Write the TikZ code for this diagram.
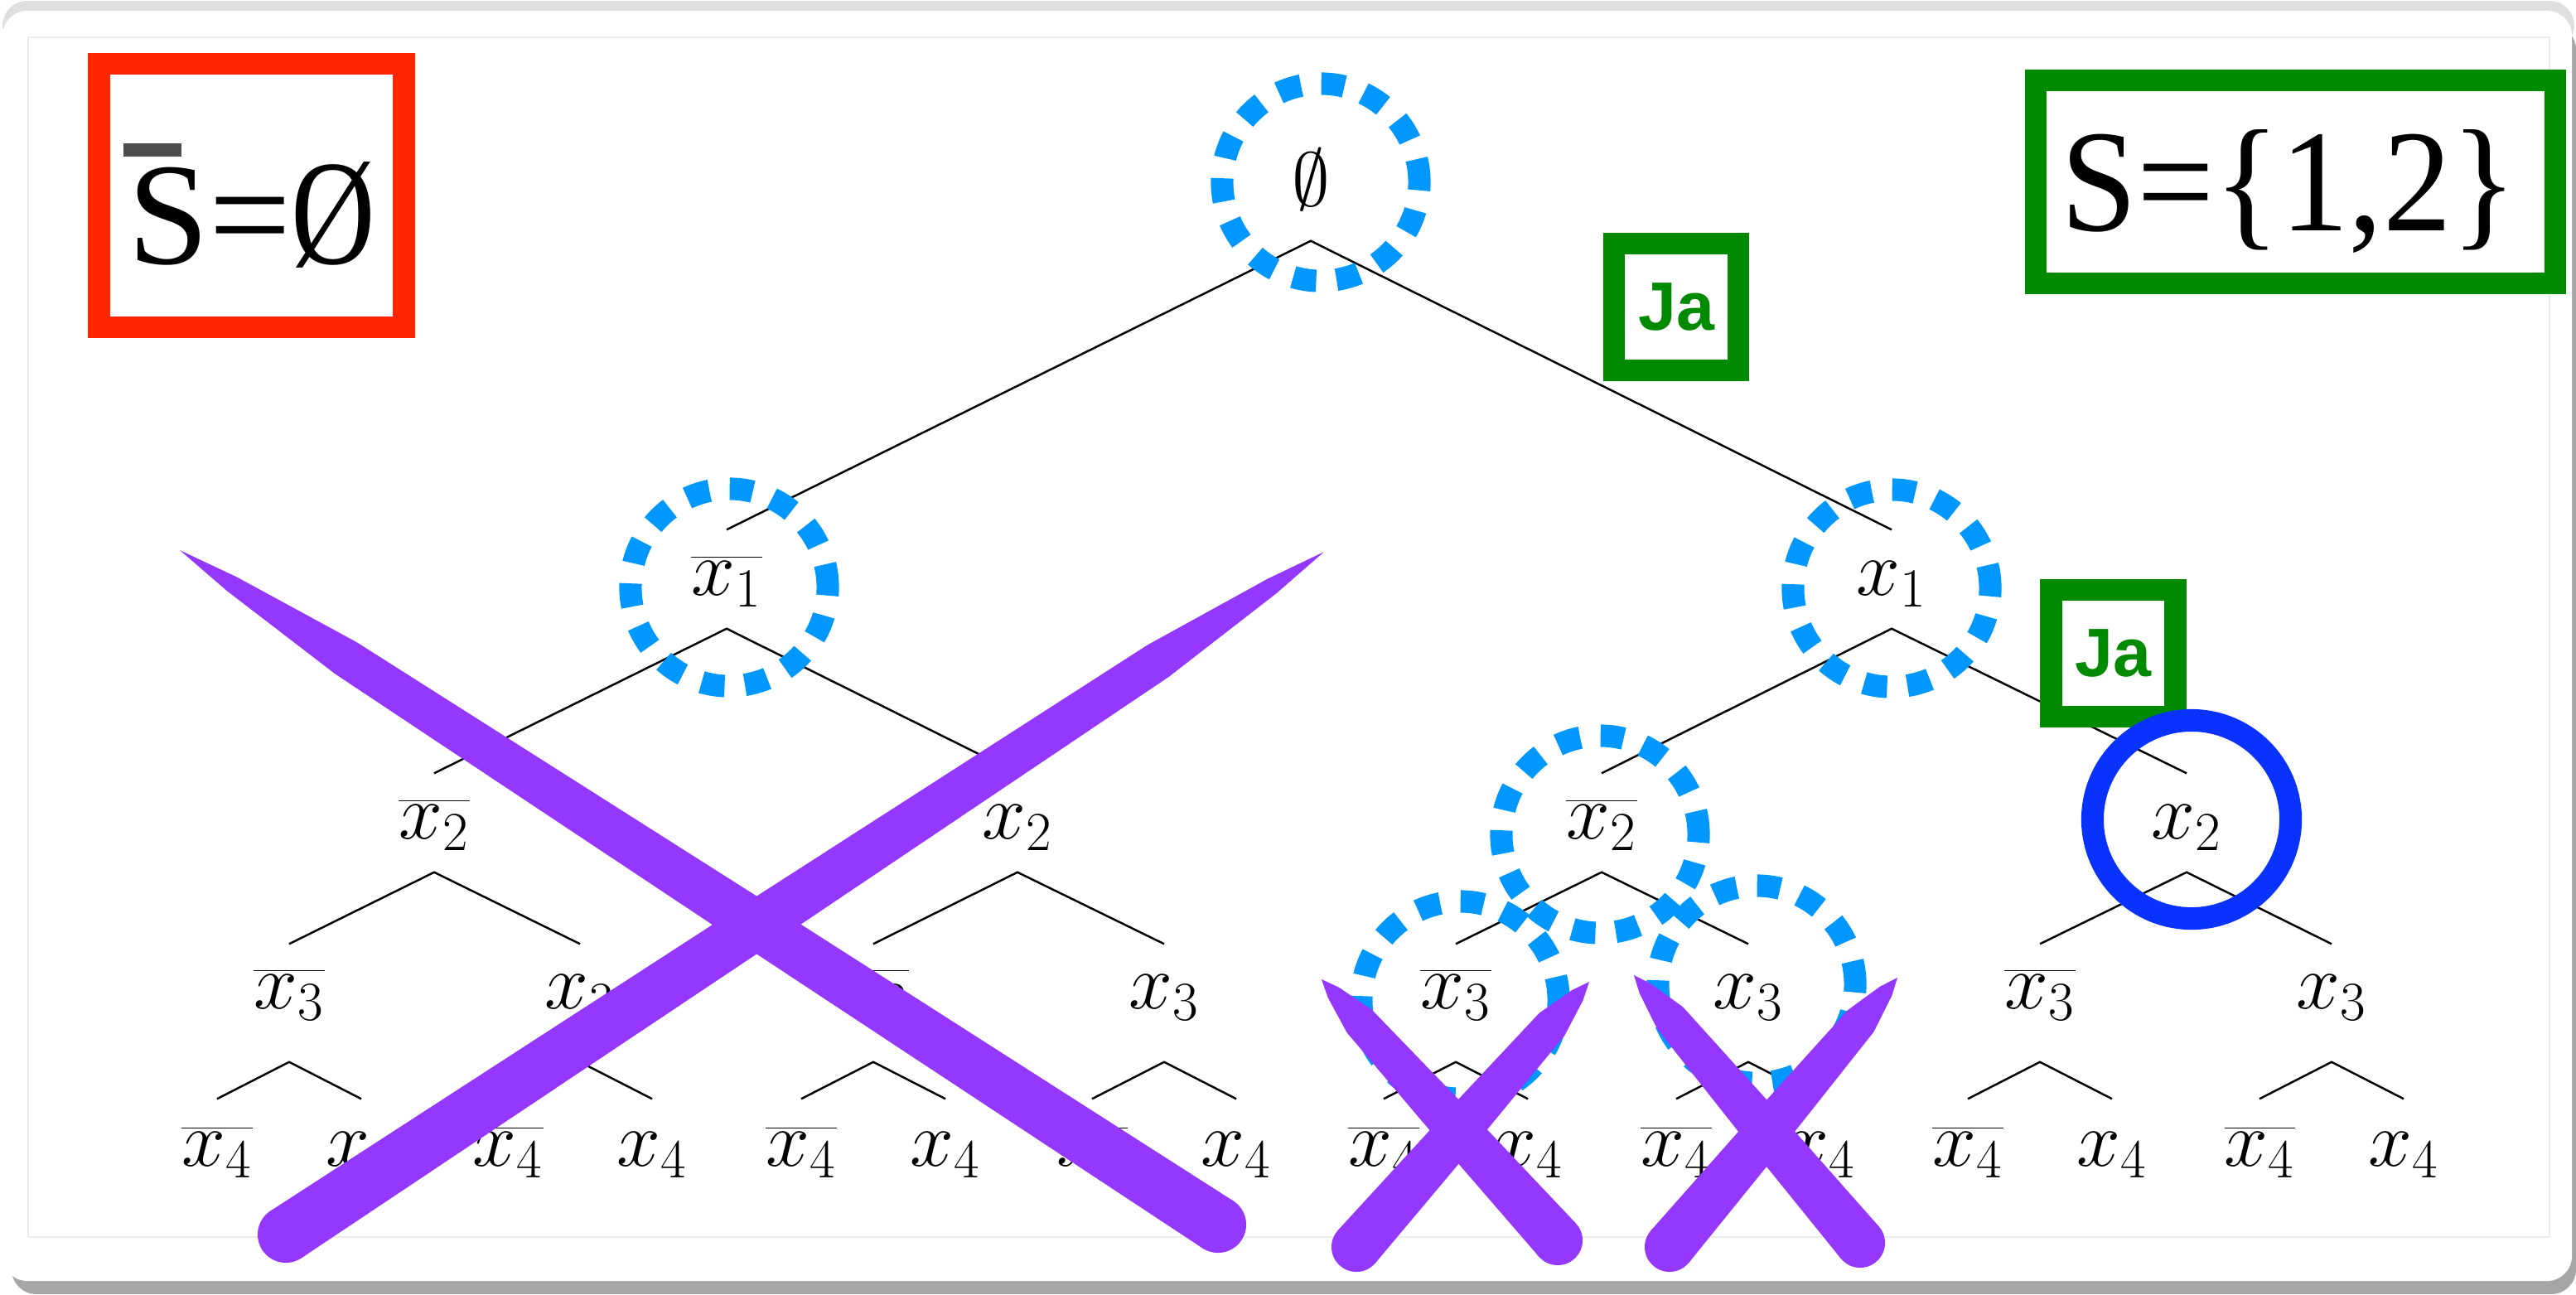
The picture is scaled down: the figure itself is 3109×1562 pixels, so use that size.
\RequirePackage{fix-cm}
\documentclass[tikz,border=0pt]{standalone}
\usepackage{fontspec}
\newfontfamily\serifbig{Liberation Serif}
\newfontfamily\sansja{Liberation Sans}
\usetikzlibrary{calc}
\definecolor{markred}{RGB}{255,38,0}
\definecolor{markgreen}{RGB}{0,138,0}
\definecolor{dashblue}{RGB}{0,152,255}
\definecolor{ringblue}{RGB}{10,50,255}
\definecolor{crosspurple}{RGB}{148,55,255}
\definecolor{bargray}{RGB}{77,77,77}
\newcommand{\xstroke}[3]{%
  \fill[xmark] (#1) -- ($(#1)!0.05!(#2)!{0.3*#3}!90:(#2)$) -- ($(#1)!0.16!(#2)!{0.68*#3}!90:(#2)$)
    -- ($(#1)!0.55!(#2)!{0.86*#3}!90:(#2)$) -- ($(#2)!#3!-90:(#1)$)
    -- ($(#2)!#3!90:(#1)$) -- ($(#1)!0.55!(#2)!{0.86*#3}!-90:(#2)$)
    -- ($(#1)!0.16!(#2)!{0.68*#3}!-90:(#2)$) -- ($(#1)!0.05!(#2)!{0.3*#3}!-90:(#2)$) -- cycle;
  \fill[xmark] (#2) circle[radius=#3];}
\begin{document}
\begin{tikzpicture}[x=0.01cm, y=-0.01cm,
          tn/.style={anchor=base, inner sep=0pt, text height=0.78cm, text depth=0.4cm, font=\fontsize{27}{32}\selectfont},
          edge/.style={line width=0.7pt},
          picked/.style={dashblue, line width=7.7pt, dash pattern=on 8pt off 7pt},
          hit/.style={ringblue, line width=7.7pt},
          frame/.style={draw, line width=7.5pt, fill=white, inner sep=0pt},
          xmark/.style={fill=crosspurple},
          big/.style={anchor=base, inner sep=0pt, font=\serifbig\fontsize{50}{60}\selectfont},
          ja/.style={frame, draw=markgreen, text=markgreen, minimum width=1.5cm, minimum height=1.53cm, font=\sansja\bfseries\fontsize{23.5}{28}\selectfont}]
        \useasboundingbox (0,0) rectangle (3109,1562);
        \fill[white] (0,0) rectangle (3109,1562);
        \fill[gray!70, rounded corners=0.3cm] (14,30) rectangle (3109,1562);
        \fill[gray!25, rounded corners=0.3cm] (3,1) rectangle (3107,60);
        \fill[white, rounded corners=0.3cm] (3,13) rectangle (3104,1546);
        \draw[gray!15] (34,45) rectangle (3077,1493);
        \node[tn, font=\fontsize{26}{30}\selectfont, text depth=0.42cm] (e) at (1582,248) {$\emptyset$};
        \node[tn] (a0) at (877,718) {$\overline{x_1}$};
        \node[tn] (a1) at (2283,718) {$x_1$};
        \node[tn] (b00) at (524,1012) {$\overline{x_2}$};
        \node[tn] (b01) at (1228,1012) {$x_2$};
        \node[tn] (b10) at (1933,1012) {$\overline{x_2}$};
        \node[tn] (b11) at (2639,1012) {$x_2$};
        \node[tn, text height=0.77cm, text depth=0.64cm] (c000) at (349,1217) {$\overline{x_3}$};
        \node[tn, text height=0.77cm, text depth=0.64cm] (c001) at (700,1217) {$x_3$};
        \node[tn, text height=0.77cm, text depth=0.64cm] (c010) at (1054,1217) {$\overline{x_3}$};
        \node[tn, text height=0.77cm, text depth=0.64cm] (c011) at (1405,1217) {$x_3$};
        \node[tn, text height=0.77cm, text depth=0.64cm] (c100) at (1757,1217) {$\overline{x_3}$};
        \node[tn, text height=0.77cm, text depth=0.64cm] (c101) at (2110,1217) {$x_3$};
        \node[tn, text height=0.77cm, text depth=0.64cm] (c110) at (2462,1217) {$\overline{x_3}$};
        \node[tn, text height=0.77cm, text depth=0.64cm] (c111) at (2814,1217) {$x_3$};
        \node[tn, text height=0.8cm] (d0000) at (262,1407) {$\overline{x_4}$};
        \node[tn, text height=0.8cm] (d0001) at (436,1407) {$x_4$};
        \node[tn, text height=0.8cm] (d0010) at (613,1407) {$\overline{x_4}$};
        \node[tn, text height=0.8cm] (d0011) at (787,1407) {$x_4$};
        \node[tn, text height=0.8cm] (d0100) at (967,1407) {$\overline{x_4}$};
        \node[tn, text height=0.8cm] (d0101) at (1141,1407) {$x_4$};
        \node[tn, text height=0.8cm] (d0110) at (1318,1407) {$\overline{x_4}$};
        \node[tn, text height=0.8cm] (d0111) at (1492,1407) {$x_4$};
        \node[tn, text height=0.8cm] (d1000) at (1670,1407) {$\overline{x_4}$};
        \node[tn, text height=0.8cm] (d1001) at (1844,1407) {$x_4$};
        \node[tn, text height=0.8cm] (d1010) at (2023,1407) {$\overline{x_4}$};
        \node[tn, text height=0.8cm] (d1011) at (2197,1407) {$x_4$};
        \node[tn, text height=0.8cm] (d1100) at (2375,1407) {$\overline{x_4}$};
        \node[tn, text height=0.8cm] (d1101) at (2549,1407) {$x_4$};
        \node[tn, text height=0.8cm] (d1110) at (2727,1407) {$\overline{x_4}$};
        \node[tn, text height=0.8cm] (d1111) at (2901,1407) {$x_4$};
        \draw[edge] (a0.north) -- (e.south) -- (a1.north);
        \draw[edge] (b00.north) -- (a0.south) -- (b01.north);
        \draw[edge] (b10.north) -- (a1.south) -- (b11.north);
        \draw[edge] (c000.north) -- (b00.south) -- (c001.north);
        \draw[edge] (c010.north) -- (b01.south) -- (c011.north);
        \draw[edge] (c100.north) -- (b10.south) -- (c101.north);
        \draw[edge] (c110.north) -- (b11.south) -- (c111.north);
        \draw[edge] (d0000.north) -- (c000.south) -- (d0001.north);
        \draw[edge] (d0010.north) -- (c001.south) -- (d0011.north);
        \draw[edge] (d0100.north) -- (c010.south) -- (d0101.north);
        \draw[edge] (d0110.north) -- (c011.south) -- (d0111.north);
        \draw[edge] (d1000.north) -- (c100.south) -- (d1001.north);
        \draw[edge] (d1010.north) -- (c101.south) -- (d1011.north);
        \draw[edge] (d1100.north) -- (c110.south) -- (d1101.north);
        \draw[edge] (d1110.north) -- (c111.south) -- (d1111.north);
        \draw[picked] (1594,220) circle[radius=1.19cm];
        \draw[picked] (880,709) circle[radius=1.19cm];
        \draw[picked] (2283,710) circle[radius=1.19cm];
        \draw[picked] (1931,1007) circle[radius=1.19cm];
        \draw[picked] (1762,1207) circle[radius=1.19cm];
        \draw[picked] (2120,1188) circle[radius=1.19cm];
        \node[ja] (ja1) at (2023,370.5) {Ja};
        \node[ja] (ja2) at (2550.5,788.5) {Ja};
        \draw[hit] (2645,989) circle[radius=1.195cm];
        \node[frame, draw=markred, minimum width=3.68cm, minimum height=3.18cm] (sbarbox) at (303.5,236) {};
        \fill[bargray] (149,173) rectangle (219,189);
        \node[big] (sbar) at (304,318) {S=\scalebox{0.8}[1.03]{Ø}};
        \node[frame, draw=markgreen, minimum width=6.27cm, minimum height=2.45cm] (sbox) at (2770.5,219.5) {};
        \node[big] (sset) at (2763,278) {\scalebox{0.94}[1]{S=\{1,2\}}};
        \xstroke{217,664}{1470,1478}{0.34cm}
        \xstroke{1598,666}{345,1490}{0.34cm}
        \xstroke{1595,1182}{1880,1497}{0.3cm}
        \xstroke{1918,1185}{1637,1505}{0.3cm}
        \xstroke{1972,1177}{2245,1500}{0.3cm}
        \xstroke{2290,1180}{2015,1505}{0.3cm}
      \end{tikzpicture}
\end{document}
